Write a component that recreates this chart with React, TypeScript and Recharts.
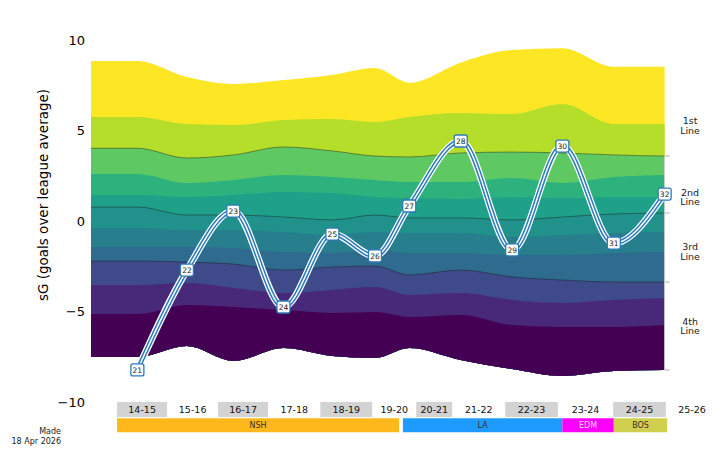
import React from 'react';
import {
  ComposedChart,
  Area,
  Line,
  XAxis,
  YAxis,
  ReferenceArea,
  ReferenceLine,
  ReferenceDot,
} from 'recharts';

// x axis runs in league games from the start of 14-15
const ages = [21, 22, 23, 24, 25, 26, 27, 28, 29, 30, 31, 32];
const ageGames = [32, 110, 183, 262, 339, 406, 460, 541, 622, 701, 782, 862];
const playerSG = [-8.23, -2.71, 0.55, -4.75, -0.72, -1.93, 0.83, 4.42, -1.6, 4.14, -1.22, 1.49];
const leadIn = -41;

// band edges, top to bottom (league distribution of forwards)
const edge0 = [8.84, 7.95, 7.57, 7.79, 8.07, 8.45, 7.64, 8.75, 9.45, 9.54, 8.52, 8.52];
const edge1 = [5.75, 5.36, 5.3, 5.58, 5.64, 5.47, 5.75, 5.97, 5.91, 6.46, 5.36, 5.36];
const edge2 = [4.02, 3.48, 3.65, 4.09, 3.87, 3.59, 3.54, 3.76, 3.81, 3.76, 3.65, 3.59];
const edge3 = [2.6, 2.1, 2.27, 2.54, 2.43, 2.27, 2.15, 2.15, 2.38, 2.1, 2.43, 2.54];
const edge4 = [1.44, 1.33, 1.44, 1.6, 1.55, 1.33, 1.27, 1.22, 1.33, 1.27, 1.33, 1.33];
const edge5 = [0.77, 0.33, 0.33, 0.22, 0.06, 0.33, 0.17, 0.17, 0.06, 0.22, 0.39, 0.44];
const edge6 = [-0.39, -0.5, -0.5, -0.61, -0.77, -0.61, -0.66, -0.66, -0.88, -0.77, -0.66, -0.61];
const edge7 = [-1.44, -1.44, -1.49, -1.71, -1.77, -1.6, -1.77, -1.77, -1.88, -1.88, -1.77, -1.71];
const edge8 = [-2.21, -2.27, -2.38, -2.71, -2.54, -2.49, -2.98, -2.71, -3.09, -3.26, -3.37, -3.37];
const edge9 = [-3.54, -3.43, -3.7, -3.98, -3.81, -3.65, -4.09, -3.98, -4.36, -4.53, -4.36, -4.25];
const edge10 = [-5.14, -4.64, -4.75, -4.92, -5.08, -5.03, -5.3, -5.19, -5.75, -5.86, -5.86, -5.75];
const edge11 = [-7.51, -6.91, -7.73, -7.02, -7.46, -7.57, -7.02, -7.68, -8.18, -8.56, -8.29, -8.23];
const edges = [edge0, edge1, edge2, edge3, edge4, edge5, edge6, edge7, edge8, edge9, edge10, edge11];

const bandColors = [
  '#fde725', '#b5de2b', '#5ec962', '#2db27d', '#1fa088', '#21918c',
  '#277f8e', '#2f6b8e', '#3e4a89', '#482878', '#440154',
];

const seasons = ['14-15', '15-16', '16-17', '17-18', '18-19', '19-20', '20-21', '21-22', '22-23', '23-24', '24-25', '25-26'];
const seasonStart = [0, 79, 159, 238, 320, 402, 471, 528, 611, 694, 781, 864];
const axisEnd = 946;

const teams = ['NSH', 'LA', 'EDM', 'BOS'];
const teamFrom = [0, 450, 701, 782];
const teamTo = [444, 701, 782, 866];
const teamColors = ['#ffb81c', '#1f9bff', '#ff00ff', '#d0d04e'];
const teamText = ['#333', '#333', '#ffd6ff', '#333'];

const lineNames = ['1st', '2nd', '3rd', '4th'];
const lineLabelY = [5.3, 1.33, -1.66, -5.8];
const lineLabelX = 902;

const yTicks = [-10, -5, 0, 5, 10];

const BLUE = '#2b7bba';

const rows = [
  { x: leadIn, e: edges.map((ed) => ed[0]) },
  ...ageGames.map((g, i) => ({
    x: g,
    e: edges.map((ed) => ed[i]),
    sg: playerSG[i],
    age: ages[i],
  })),
];

const seasonEnd = seasonStart.map((s, i) => (i < seasonStart.length - 1 ? seasonStart[i + 1] : axisEnd));
const lastIdx = ageGames.length - 1;
const lastX = ageGames[lastIdx];
const groupEdges = [edge2[lastIdx], edge5[lastIdx], edge8[lastIdx], edge11[lastIdx]];

const AgeTag = (props: any) => {
  const { cx, cy, payload, index } = props;
  if (payload == null || payload.sg == null || cx == null || cy == null) return <g key={`t${index}`} />;
  return (
    <g key={`t${index}`}>
      <rect x={cx - 6.5} y={cy - 6} width={13} height={12} rx={2} fill="#fff" stroke={BLUE} strokeWidth={1.3} />
      <text x={cx} y={cy + 2.7} textAnchor="middle" fontSize={7.5} fill="#222">
        {payload.age}
      </text>
    </g>
  );
};

const LineLabel = (name: string) => (p: any) => (
  <text textAnchor="middle" fontSize={9.5} fill="#222">
    <tspan x={p.cx} y={p.cy - 1}>{name}</tspan>
    <tspan x={p.cx} y={p.cy + 8.5}>Line</tspan>
  </text>
);

const YLabel = () => (
  <text x={43} y={195} transform="rotate(-90 43 195)" textAnchor="middle" dominantBaseline="central" fontSize={13.5} fill="#000">
    sG (goals over league average)
  </text>
);

export default function App() {
  return (
    <div style={{ position: 'absolute', left: 0, top: 0, width: 720, height: 458, background: '#fff', fontFamily: 'DejaVu Sans' }}>
      <ComposedChart width={720} height={458} data={rows} margin={{ top: 40, right: 2, left: 0, bottom: 56 }}>
        <XAxis dataKey="x" type="number" domain={[leadIn, axisEnd]} hide allowDataOverflow />
        <YAxis
          width={91}
          domain={[-10, 10]}
          ticks={yTicks}
          axisLine={false}
          tickLine={false}
          tickSize={4}
          tickMargin={2}
          tick={{ fill: '#000', fontSize: 13 }}
          tickFormatter={(v: number) => String(v).replace('-', '\u2212')}
          label={{ content: YLabel }}
        />

        {bandColors.map((c, i) => (
          <Area
            key={`band${i}`}
            type="monotone"
            dataKey={(d: any) => [d.e[11], d.e[i]]}
            fill={c}
            fillOpacity={1}
            stroke="none"
            isAnimationActive={false}
            activeDot={false}
          />
        ))}

        {[2, 5, 8].map((k) => (
          <Line
            key={`edge${k}`}
            type="monotone"
            dataKey={(d: any) => d.e[k]}
            stroke="#1a1a1a"
            strokeOpacity={0.55}
            strokeWidth={0.8}
            dot={false}
            activeDot={false}
            isAnimationActive={false}
          />
        ))}

        {groupEdges.map((v, i) => (
          <ReferenceLine
            key={`gt${i}`}
            segment={[{ x: lastX, y: v }, { x: lastX + 8, y: v }]}
            stroke="#b0b0b0"
            ifOverflow="visible"
          />
        ))}
        <ReferenceLine
          segment={[{ x: lastX, y: groupEdges[0] }, { x: lastX, y: groupEdges[3] }]}
          stroke="#d4d4d4"
          ifOverflow="visible"
        />

        {lineNames.map((n, i) => (
          <ReferenceDot key={`ln${i}`} x={lineLabelX} y={lineLabelY[i]} r={0} ifOverflow="visible" shape={LineLabel(n)} />
        ))}

        <Line type="monotone" dataKey="sg" stroke="#fff" strokeWidth={7} dot={false} activeDot={false} isAnimationActive={false} />
        <Line type="monotone" dataKey="sg" stroke={BLUE} strokeWidth={4.5} dot={false} activeDot={false} isAnimationActive={false} />
        <Line type="monotone" dataKey="sg" stroke="#fff" strokeWidth={1.5} dot={AgeTag} activeDot={false} isAnimationActive={false} />

        {seasons.map((s, i) => (
          <ReferenceArea
            key={`s${i}`}
            x1={seasonStart[i]}
            x2={seasonEnd[i]}
            y1={-10}
            y2={-10.83}
            fill={i % 2 === 0 ? '#d3d3d3' : '#fff'}
            fillOpacity={1}
            stroke="none"
            ifOverflow="visible"
            label={{ value: s, position: 'center', fill: '#111', fontSize: 9.5 }}
          />
        ))}

        {teams.map((t, i) => (
          <ReferenceArea
            key={`tm${i}`}
            x1={teamFrom[i]}
            x2={teamTo[i]}
            y1={-10.9}
            y2={-11.67}
            fill={teamColors[i]}
            fillOpacity={1}
            stroke="none"
            ifOverflow="visible"
            label={{ value: t, position: 'center', fill: teamText[i], fontSize: 8 }}
          />
        ))}
      </ComposedChart>
      <div style={{ position: 'absolute', left: 0, top: 426.5, width: 61, textAlign: 'right', fontSize: 8, lineHeight: '10px', color: '#222' }}>
        Made
        <br />
        18 Apr 2026
      </div>
    </div>
  );
}
